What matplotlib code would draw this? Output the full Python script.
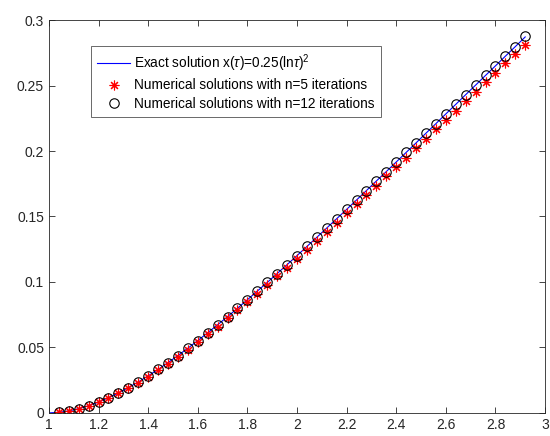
import matplotlib
matplotlib.use("Agg")
import matplotlib.pyplot as plt

plt.rcParams['font.family'] = ['Liberation Sans', 'DejaVu Sans']
plt.rcParams['mathtext.fontset'] = 'custom'
plt.rcParams['mathtext.rm'] = 'Liberation Sans'
plt.rcParams['mathtext.it'] = 'Liberation Sans:italic'

tau = [1.04, 1.08, 1.12, 1.16, 1.20, 1.24, 1.28, 1.32, 1.36, 1.40, 1.44, 1.48,
       1.52, 1.56, 1.60, 1.64, 1.68, 1.72, 1.76, 1.80, 1.84, 1.88, 1.92, 1.96,
       2.00, 2.04, 2.08, 2.12, 2.16, 2.20, 2.24, 2.28, 2.32, 2.36, 2.40, 2.44,
       2.48, 2.52, 2.56, 2.60, 2.64, 2.68, 2.72, 2.76, 2.80, 2.84, 2.88, 2.92]

exact_x = [1.0] + tau
exact_y = [0.0, 0.0004, 0.0015, 0.0032, 0.0055, 0.0083, 0.0116, 0.0152, 0.0193,
           0.0236, 0.0283, 0.0332, 0.0384, 0.0438, 0.0494, 0.0552, 0.0612,
           0.0673, 0.0735, 0.0799, 0.0864, 0.0930, 0.0996, 0.1064, 0.1132,
           0.1201, 0.1271, 0.1341, 0.1412, 0.1483, 0.1554, 0.1626, 0.1698,
           0.1771, 0.1843, 0.1916, 0.1989, 0.2062, 0.2136, 0.2209, 0.2283,
           0.2356, 0.2430, 0.2503, 0.2577, 0.2650, 0.2724, 0.2797, 0.2871]

n5_y = [0.0004, 0.0015, 0.0031, 0.0054, 0.0081, 0.0113, 0.0149, 0.0189,
        0.0232, 0.0277, 0.0326, 0.0377, 0.0430, 0.0484, 0.0541, 0.0600,
        0.0659, 0.0721, 0.0783, 0.0846, 0.0911, 0.0976, 0.1043, 0.1109,
        0.1177, 0.1245, 0.1314, 0.1383, 0.1453, 0.1523, 0.1594, 0.1664,
        0.1735, 0.1806, 0.1878, 0.1949, 0.2021, 0.2093, 0.2165, 0.2237,
        0.2309, 0.2381, 0.2453, 0.2525, 0.2597, 0.2669, 0.2741, 0.2813]

n12_y = [0.0004, 0.0015, 0.0032, 0.0055, 0.0083, 0.0116, 0.0152, 0.0193,
         0.0236, 0.0283, 0.0332, 0.0384, 0.0438, 0.0494, 0.0552, 0.0612,
         0.0673, 0.0735, 0.0799, 0.0864, 0.0930, 0.0996, 0.1064, 0.1132,
         0.1201, 0.1271, 0.1341, 0.1412, 0.1483, 0.1554, 0.1626, 0.1698,
         0.1771, 0.1843, 0.1916, 0.1989, 0.2062, 0.2136, 0.2209, 0.2283,
         0.2356, 0.2430, 0.2503, 0.2577, 0.2650, 0.2724, 0.2797, 0.2875]

xticks = [1, 1.2, 1.4, 1.6, 1.8, 2, 2.2, 2.4, 2.6, 2.8, 3]
xticklabels = ['1', '1.2', '1.4', '1.6', '1.8', '2', '2.2', '2.4', '2.6', '2.8', '3']
yticks = [0, 0.05, 0.1, 0.15, 0.2, 0.25, 0.3]
yticklabels = ['0', '0.05', '0.1', '0.15', '0.2', '0.25', '0.3']

fig = plt.figure(figsize=(5.5, 4.36), dpi=100)
ax = fig.add_axes([0.089, 0.053, 0.902, 0.901])

ax.plot(exact_x, exact_y, color='#0000ff', lw=0.8,
        label=r'Exact solution x($\tau$)=0.25(ln$\tau$)$^2$')
ax.plot(tau, n5_y, linestyle='none', marker=(8, 2, 0), color='#ff0000',
        markersize=7, markeredgewidth=0.8,
        label='Numerical solutions with n=5 iterations')
ax.plot(tau, n12_y, linestyle='none', marker='o', markerfacecolor='none',
        markeredgecolor='black', markersize=6.8, markeredgewidth=0.8,
        label='Numerical solutions with n=12 iterations')

ax.set_xlim(1, 3)
ax.set_ylim(0, 0.3)
ax.set_xticks(xticks)
ax.set_xticklabels(xticklabels)
ax.set_yticks(yticks)
ax.set_yticklabels(yticklabels)
ax.tick_params(direction='in', top=True, right=True, labelsize=10,
               length=4, width=0.6, colors='#262626')
for s in ax.spines.values():
    s.set_linewidth(0.6)
    s.set_color('#262626')

leg = ax.legend(loc='upper left', bbox_to_anchor=(0.085, 0.934), fontsize=9.8,
                frameon=True, fancybox=False, edgecolor='#262626',
                borderaxespad=0, handlelength=2.4, handletextpad=0.3,
                labelspacing=0.35, borderpad=0.45)
leg.get_frame().set_linewidth(0.6)

fig.savefig('out.png', dpi=100)
